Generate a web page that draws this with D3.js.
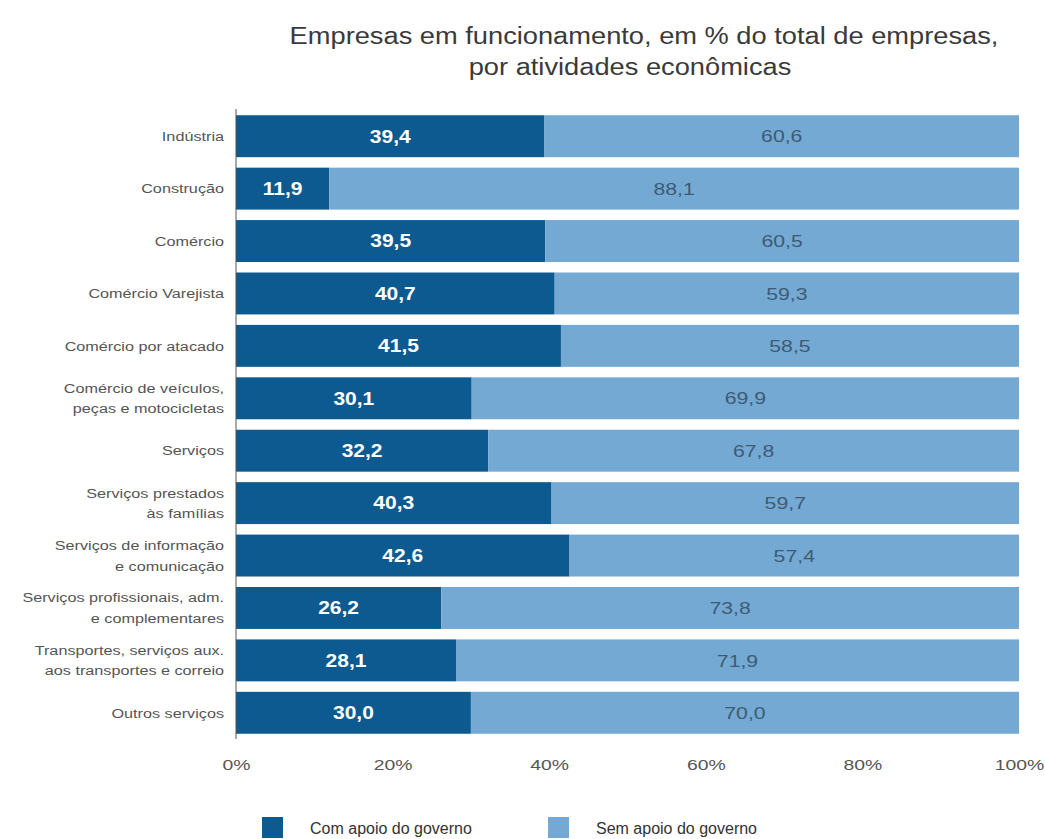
<!DOCTYPE html>
<html><head><meta charset="utf-8">
<script src="https://cdn.jsdelivr.net/npm/d3@7"></script>
<style>body{margin:0;background:#fff;}svg{display:block;font-family:"Liberation Sans",Arial,sans-serif;}</style>
</head><body>
<svg id="chart" width="1045" height="839"></svg>
<script>
const categories = [
  ["Indústria"],
  ["Construção"],
  ["Comércio"],
  ["Comércio Varejista"],
  ["Comércio por atacado"],
  ["Comércio de veículos,", "peças e motocicletas"],
  ["Serviços"],
  ["Serviços prestados", "às famílias"],
  ["Serviços de informação", "e comunicação"],
  ["Serviços profissionais, adm.", "e complementares"],
  ["Transportes, serviços aux.", "aos transportes e correio"],
  ["Outros serviços"]
];
const comApoio = [39.4, 11.9, 39.5, 40.7, 41.5, 30.1, 32.2, 40.3, 42.6, 26.2, 28.1, 30.0];
const semApoio = [60.6, 88.1, 60.5, 59.3, 58.5, 69.9, 67.8, 59.7, 57.4, 73.8, 71.9, 70.0];
const seriesNames = ["Com apoio do governo", "Sem apoio do governo"];
const tickValues = [0, 20, 40, 60, 80, 100];
const titleLines = ["Empresas em funcionamento, em % do total de empresas,", "por atividades econômicas"];
const colors = ["#0d5a91", "#74a9d3"];

const svg = d3.select("#chart");
const x = d3.scaleLinear().domain([0, 100]).range([236, 1019]);
const y = d3.scaleBand().domain(d3.range(categories.length)).range([110, 739]).paddingInner(0.2).paddingOuter(0.1);
const fmt = v => v.toFixed(1).replace(".", ",");

function sText(parent, tx, ty, sx, str) {
  return parent.append("g").attr("transform", `translate(${tx},${ty}) scale(${sx},1)`)
    .append("text").text(str);
}

// title
const titleX = [644, 630];
titleLines.forEach((line, k) => {
  sText(svg, titleX[k], 44 + k * 31, 1.16, line).attr("text-anchor", "middle")
    .attr("font-size", 23.5).attr("fill", "#3a3a3a");
});

const rows = svg.append("g").selectAll("g").data(categories).join("g");
rows.append("rect").attr("x", x(0)).attr("y", (d, i) => y(i)).attr("height", y.bandwidth())
  .attr("width", (d, i) => x(comApoio[i]) - x(0)).attr("fill", colors[0]);
rows.append("rect").attr("x", (d, i) => x(comApoio[i])).attr("y", (d, i) => y(i)).attr("height", y.bandwidth())
  .attr("width", (d, i) => x(comApoio[i] + semApoio[i]) - x(comApoio[i])).attr("fill", colors[1]);

rows.each(function(d, i) {
  const g = d3.select(this);
  const cy = y(i) + y.bandwidth() / 2;
  sText(g, (x(0) + x(comApoio[i])) / 2, cy, 1.2, fmt(comApoio[i]))
    .attr("dy", "0.36em").attr("text-anchor", "middle").attr("font-size", 17.5)
    .attr("font-weight", "bold").attr("fill", "#fff");
  sText(g, (x(comApoio[i]) + x(comApoio[i] + semApoio[i])) / 2, cy, 1.25, fmt(semApoio[i]))
    .attr("dy", "0.36em").attr("text-anchor", "middle").attr("font-size", 17)
    .attr("fill", "#3f5b74");
  const n = d.length;
  d.forEach((line, k) => {
    sText(g, 224, cy + (k - (n - 1) / 2) * 20.5, 1.2, line)
      .attr("dy", "0.35em").attr("text-anchor", "end").attr("font-size", 13.5).attr("fill", "#555");
  });
});

svg.append("line").attr("x1", x(0)).attr("x2", x(0)).attr("y1", 109).attr("y2", 739)
  .attr("stroke", "#555").attr("stroke-width", 1);

const xAxis = d3.axisBottom(x).tickValues(tickValues).tickSize(0).tickFormat(v => v + "%");
const gx = svg.append("g").attr("transform", "translate(0,756)").call(xAxis);
gx.select(".domain").remove();
gx.selectAll(".tick text").attr("font-size", 15.5).attr("fill", "#555")
  .attr("font-family", "Liberation Sans, Arial, sans-serif")
  .attr("transform", "scale(1.25,1)")
  .attr("x", 0);

const legendX = [262, 548];
const lg = svg.append("g").selectAll("g").data(seriesNames).join("g")
  .attr("transform", (d, i) => `translate(${legendX[i]},817)`);
lg.append("rect").attr("width", 21).attr("height", 21).attr("fill", (d, i) => colors[i]);
lg.append("text").attr("x", 48).attr("y", 17).attr("font-size", 16).attr("fill", "#333").text(d => d);
</script>
</body></html>
